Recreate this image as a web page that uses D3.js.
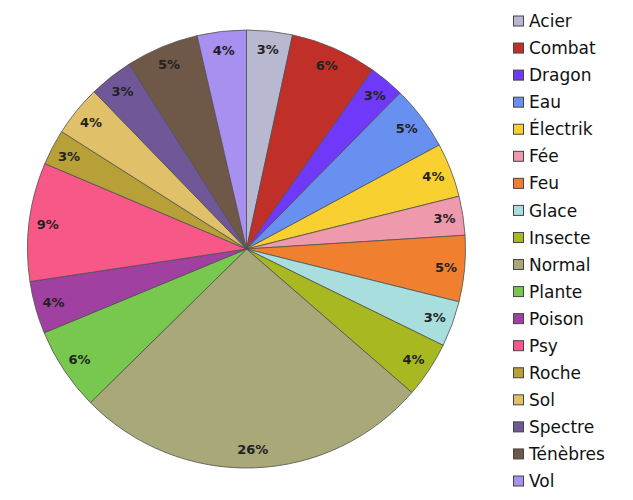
<!DOCTYPE html>
<html>
<head>
<meta charset="utf-8">
<script src="https://cdn.jsdelivr.net/npm/d3@7"></script>
<style>
  body { margin: 0; background: #fff; }
  svg { display: block; font-family: "DejaVu Sans", sans-serif; }
</style>
</head>
<body>
<div id="chart"></div>
<script>
"use strict";

// types de Pokémon et nombre par type
const types = ["Acier", "Combat", "Dragon", "Eau", "Électrik", "Fée", "Feu", "Glace", "Insecte",
    "Normal", "Plante", "Poison", "Psy", "Roche", "Sol", "Spectre", "Ténèbres", "Vol"];
const counts = [27, 51, 21, 38, 32, 23, 39, 27, 33, 210, 49, 31, 70, 21, 30, 26, 43, 29];
const colors = ["#b8b8d0", "#c03028", "#7038f8", "#6890f0", "#f8d030", "#ee99ac", "#f08030", "#a8dede", "#a8b820",
    "#a8a878", "#78c850", "#a040a0", "#f85888", "#b8a038", "#e0c068", "#705898", "#705848", "#a890f0"];

const data = types.map((t, i) => ({ type: t, value: counts[i] }));
const total = d3.sum(counts);

const svgWidth = 633;
const svgHeight = 500;
const cx = 246.5, cy = 249, radius = 219;

const svg = d3.select("#chart")
    .append("svg")
    .attr("width", svgWidth)
    .attr("height", svgHeight);

const color = d3.scaleOrdinal().domain(types).range(colors);

const pie = d3.pie()
    .value(d => d.value)
    .sort(null);

const arc = d3.arc().innerRadius(0).outerRadius(radius);
const labelArc = d3.arc().innerRadius(radius * 0.915).outerRadius(radius * 0.915);

const g = svg.append("g")
    .attr("transform", "translate(" + cx + "," + cy + ")");

const arcs = pie(data);

g.selectAll(".slice")
    .data(arcs)
    .enter().append("path")
    .attr("class", "slice")
    .attr("d", arc)
    .attr("fill", d => color(d.data.type))
    .attr("stroke", "#505050")
    .attr("stroke-width", 0.8);

g.selectAll(".label")
    .data(arcs)
    .enter().append("text")
    .attr("class", "label")
    .attr("transform", d => "translate(" + labelArc.centroid(d) + ")")
    .attr("text-anchor", "middle")
    .attr("dy", "0.36em")
    .attr("font-size", 13)
    .attr("font-weight", "bold")
    .attr("fill", "#222")
    .text(d => Math.round(d.data.value / total * 100) + "%");

// légende
const y = d3.scalePoint()
    .domain(types)
    .range([21, 481]);

const legend = svg.append("g")
    .selectAll(".legend")
    .data(types)
    .enter().append("g")
    .attr("class", "legend")
    .attr("transform", d => "translate(513," + y(d) + ")");

legend.append("rect")
    .attr("x", 0.5)
    .attr("y", -5)
    .attr("width", 10)
    .attr("height", 10)
    .attr("fill", d => color(d))
    .attr("stroke", "#444")
    .attr("stroke-width", 1);

legend.append("text")
    .attr("x", 16)
    .attr("dy", "0.36em")
    .attr("font-size", 17)
    .attr("fill", "#111")
    .text(d => d);
</script>
</body>
</html>
